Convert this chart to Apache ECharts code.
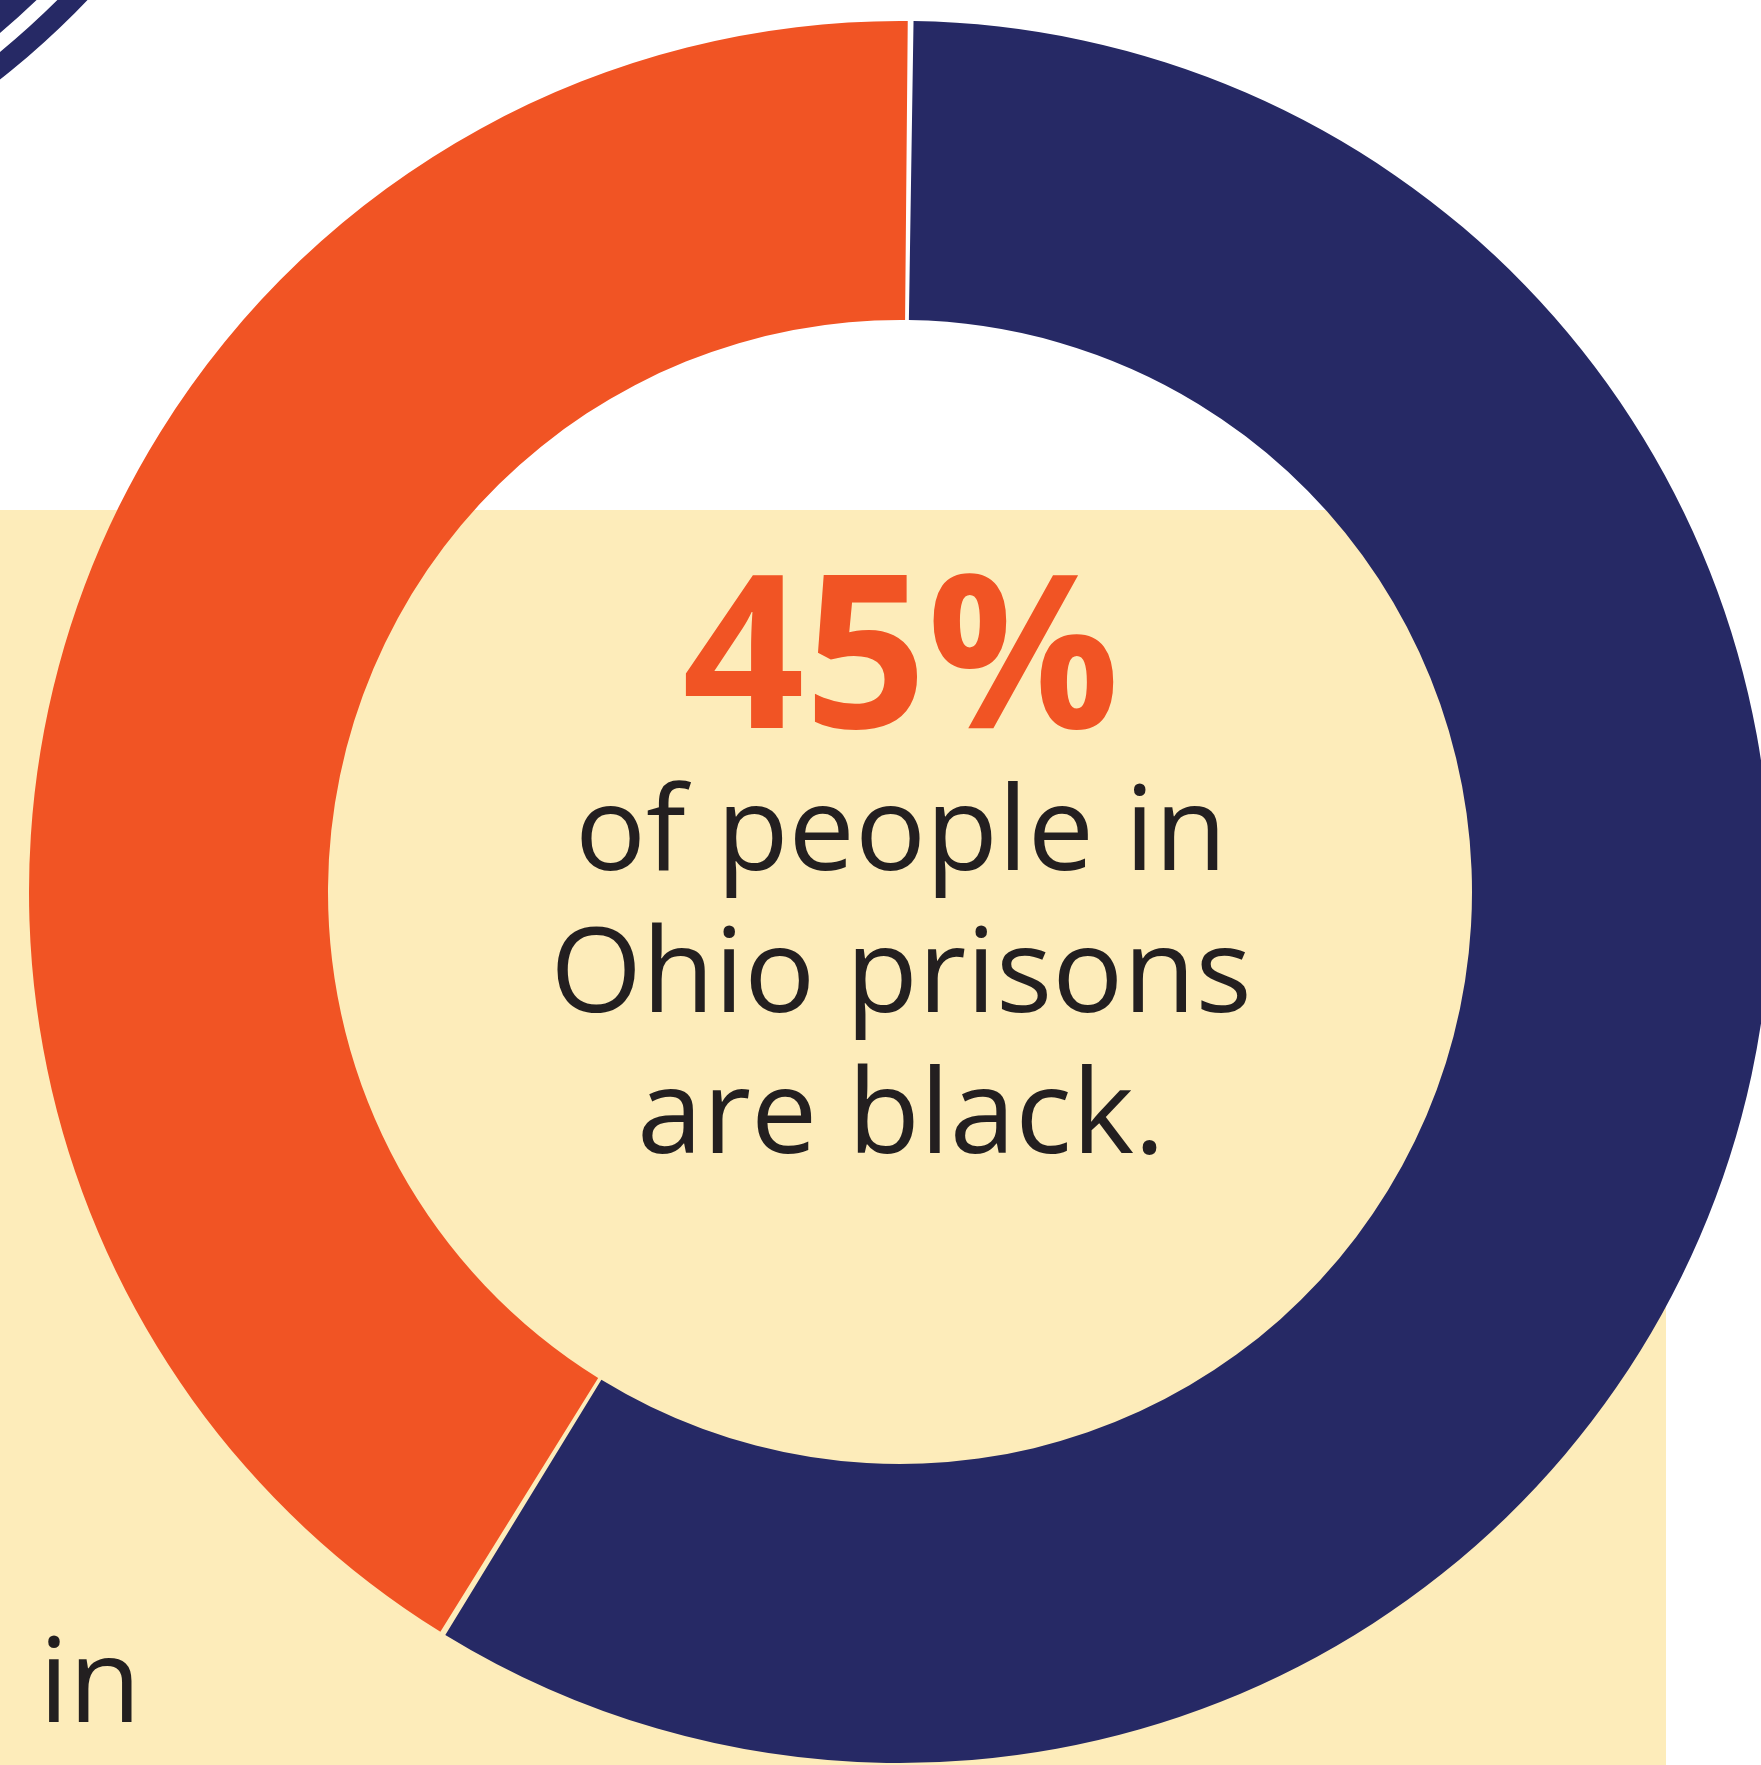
<!DOCTYPE html>
<html>
<head>
<meta charset="utf-8">
<script src="https://cdn.jsdelivr.net/npm/echarts@6/dist/echarts.min.js"></script>
<style>
html,body{margin:0;padding:0;background:#ffffff;}
#chart{width:1761px;height:1765px;}
</style>
</head>
<body>
<div id="chart"></div>
<script>
// ---- data ----
const categories = ['Other', 'Black'];
const values = [58.6, 41.4];
const sliceColors = ['#262965', '#F15424'];
const headline = '45%';
const captionLines = ['of people in', 'Ohio prisons', 'are black.'];
const strayText = 'in';
// decorative partial ring of a neighbouring chart (single full band each)
const neighbourRings = [[1], [1]];

const chart = echarts.init(document.getElementById('chart'), null, {renderer: 'canvas'});

const fontFamily = '"Open Sans", "Noto Sans", sans-serif';

const option = {
  animation: false,
  backgroundColor: '#ffffff',
  graphic: [
    {
      type: 'rect', z: -10, silent: true,
      shape: {x: 0, y: 510, width: 1666, height: 1300},
      style: {fill: '#FDECBA'}
    },
    {
      type: 'text', z: 100, silent: true,
      x: 901, y: 667,
      style: {
        text: headline, fill: '#F15424',
        font: '700 214px ' + fontFamily,
        align: 'center', verticalAlign: 'middle'
      }
    },
    {
      type: 'text', z: 100, silent: true,
      x: 901, y: 766,
      style: {
        text: captionLines.join('\n'), fill: '#231F20',
        font: '400 118px ' + fontFamily,
        lineHeight: 141.5,
        align: 'center', verticalAlign: 'top'
      }
    },
    {
      type: 'text', z: 100, silent: true,
      x: 39, y: 1688,
      style: {
        text: strayText, fill: '#231F20',
        font: '400 118px ' + fontFamily,
        align: 'left', verticalAlign: 'middle'
      }
    }
  ],
  series: [
    {
      type: 'pie',
      center: [900, 892],
      radius: [572, 871],
      startAngle: 89.3,
      clockwise: true,
      padAngle: 0.38,
      silent: true,
      label: {show: false},
      labelLine: {show: false},
      itemStyle: {borderWidth: 0},
      data: categories.map((c, i) => ({name: c, value: values[i], itemStyle: {color: sliceColors[i]}}))
    },
    {
      type: 'pie',
      center: [-541, -603],
      radius: [849.5, 871],
      silent: true,
      label: {show: false},
      labelLine: {show: false},
      itemStyle: {color: '#262965'},
      data: neighbourRings[0]
    },
    {
      type: 'pie',
      center: [-541, -603],
      radius: [770, 835],
      silent: true,
      label: {show: false},
      labelLine: {show: false},
      itemStyle: {color: '#262965'},
      data: neighbourRings[1]
    }
  ]
};
chart.setOption(option);
</script>
</body>
</html>
